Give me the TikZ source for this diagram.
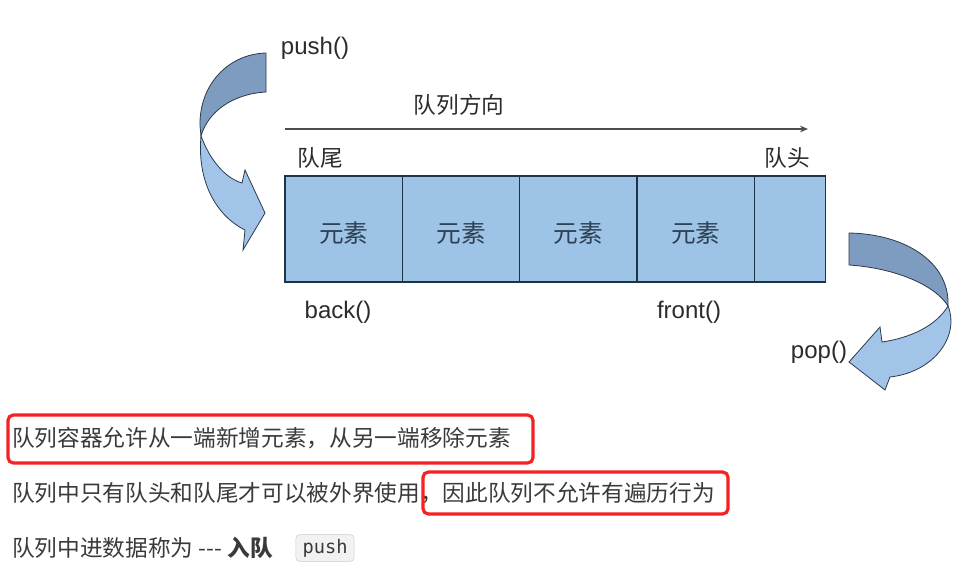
\documentclass[tikz,border=0pt]{standalone}
\usepackage{fontspec}
\setmainfont{Liberation Sans}
\newfontfamily\cjk{Noto Sans CJK SC}
\newfontfamily\codefont{DejaVu Sans Mono}
\usetikzlibrary{positioning,arrows.meta}
\definecolor{cellblue}{HTML}{9DC3E6}
\definecolor{celledge}{HTML}{1F3347}
\definecolor{elemtext}{HTML}{2E4054}
\definecolor{tagtext}{HTML}{2B2B2B}
\definecolor{linetext}{HTML}{3A3A3A}
\definecolor{bandlight}{HTML}{A2C4E8}
\definecolor{banddark}{HTML}{7E9CC0}
\definecolor{bandedge}{HTML}{2B3A4A}
\definecolor{framered}{HTML}{F52222}
\newcommand{\elem}{\raisebox{-3pt}[\height][\depth]{元素}}

\begin{document}
\begin{tikzpicture}[%
    x=0.75pt, y=-0.75pt,
    >=Stealth,
    cell/.style={draw=celledge, fill=cellblue, line width=1pt, minimum width=88pt,
      minimum height=79.5pt, inner sep=0pt, outer sep=0pt, text=elemtext,
      font=\cjk\fontsize{18.5}{20}\selectfont},
    tag/.style={inner sep=0pt, text=tagtext, font=\fontsize{18}{20}\selectfont},
    cjktag/.style={tag, font=\cjk\fontsize{17}{20}\selectfont},
    textline/.style={anchor=west, inner sep=0pt, text=linetext,
      font=\cjk\fontsize{17}{20}\selectfont},
    band/.style={draw=bandedge, line width=0.6pt},
    redframe/.style={draw=framered, line width=2.4pt, rounded corners=4pt},
    codebox/.style={draw=black!20, fill=black!5, rounded corners=3pt, text=linetext,
      inner xsep=5pt, minimum height=19.5pt, font=\codefont\fontsize{14}{16}\selectfont}
  ]
    \useasboundingbox (0,0) rectangle (974,581);

    % queue cells
    \node[cell, anchor=north west] (c1) at (285,176) {\elem};
    \node[cell] (c2) [right=0pt of c1] {\elem};
    \node[cell] (c3) [right=0pt of c2] {\elem};
    \node[cell] (c4) [right=0pt of c3] {\elem};
    \node[cell, minimum width=53.25pt] (c5) [right=0pt of c4] {};

    % direction
    \node[cjktag] (dir) at (459,105) {队列方向};
    \coordinate (dirstart) at (285,129);
    \coordinate (dirend) at (808,129);
    \draw[->, draw=black!70, line width=1.2pt, >={Stealth[length=6pt,width=5pt]}]
      (dirstart) -- (dirend);

    \node[cjktag] (tail) at (320,158) {队尾};
    \node[cjktag] (head) at (787,158) {队头};
    \node[tag] (back) at (338,312) {back()};
    \node[tag] (front) at (689,312) {front()};
    \node[tag] (push) at (315,48) {push()};
    \node[tag] (pop) at (819,352) {pop()};

    % push arrow
    \fill[band, fill=banddark] (266,53) .. controls (228,54) and (199,85) .. (200,126)
      -- (201,136) .. controls (208,112) and (232,94) .. (266,92) -- cycle;
    \fill[band, fill=bandlight] (201,136) .. controls (210,160) and (225,178) .. (242,183)
      -- (245,170) -- (265,213) -- (243,250) -- (245,230)
      .. controls (215,215) and (197,180) .. (201,136) -- cycle;

    % pop arrow
    \fill[band, fill=banddark] (849,233) .. controls (905,234) and (950,262) .. (948,306)
      .. controls (935,285) and (895,268) .. (849,265) -- cycle;
    \fill[band, fill=bandlight] (948,306) .. controls (960,335) and (935,372) .. (890,377)
      -- (885,390) -- (849,362) -- (880,327) -- (882,342)
      .. controls (910,338) and (936,326) .. (948,306) -- cycle;

    % notes
    \node[textline] (line1) at (12,438) {队列容器允许从一端新增元素，从另一端移除元素};
    \node[textline] (line2) at (12,493) {队列中只有队头和队尾才可以被外界使用，因此队列不允许有遍历行为};
    \node[textline] (line3) at (12,548) {队列中进数据称为 {-}{-}{-} \textbf{入队}};
    \node[codebox] (pushcode) [right=17pt of line3] {push};

    \draw[redframe] (8,415) rectangle (533,463);
    \draw[redframe] (423,472) rectangle (728,514);
  \end{tikzpicture}
\end{document}
